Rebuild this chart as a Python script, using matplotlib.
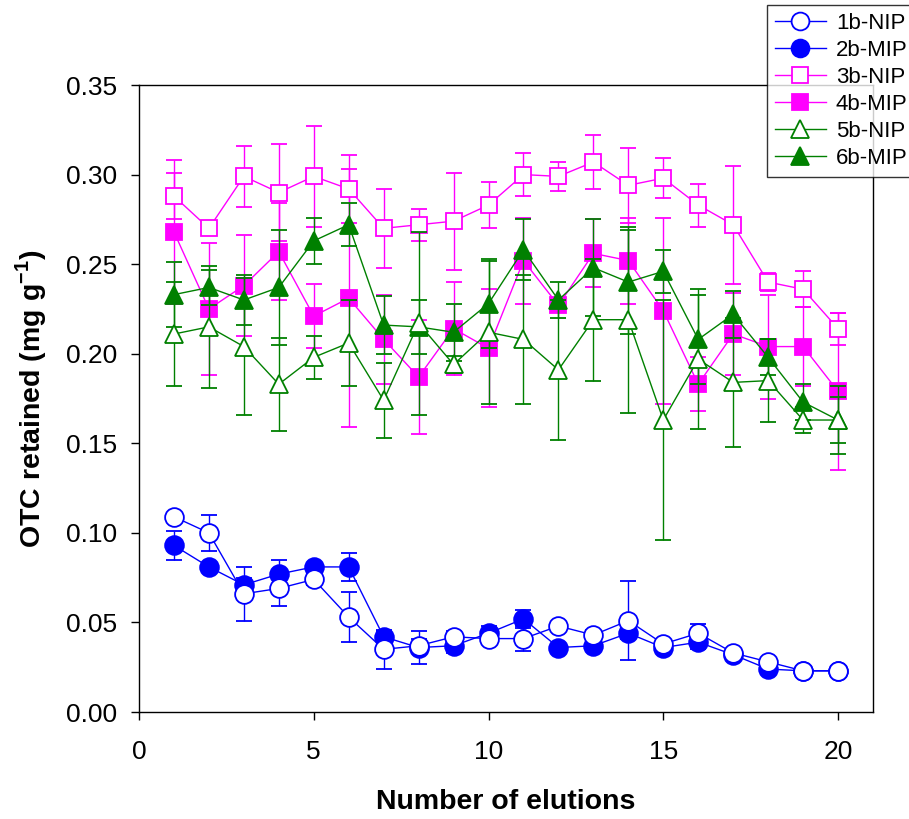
import numpy as np
import matplotlib
matplotlib.use("Agg")
import matplotlib.pyplot as plt
from matplotlib.lines import Line2D

plt.rcParams['font.family'] = ['Liberation Sans', 'DejaVu Sans']
plt.rcParams['mathtext.fontset'] = 'custom'
plt.rcParams['mathtext.rm'] = 'Liberation Sans'
plt.rcParams['mathtext.bf'] = 'Liberation Sans:bold'

elutions = np.arange(1, 21)

# series values (mg/g)
nip_1b = [0.109, 0.100, 0.066, 0.069, 0.074, 0.053, 0.035, 0.037, 0.042, 0.041,
          0.041, 0.048, 0.043, 0.051, 0.038, 0.044, 0.033, 0.028, 0.023, 0.023]
err_1b = [0.002, 0.010, 0.015, 0.010, 0.003, 0.014, 0.011, 0.004, 0.003, 0.003,
          0.007, 0.002, 0.003, 0.022, 0.002, 0.005, 0.002, 0.002, 0.001, 0.001]
mip_2b = [0.093, 0.081, 0.071, 0.077, 0.081, 0.081, 0.042, 0.036, 0.037, 0.044,
          0.052, 0.036, 0.037, 0.044, 0.036, 0.039, 0.032, 0.024, 0.023, 0.023]
err_2b = [0.008, 0.002, 0.004, 0.008, 0.002, 0.008, 0.003, 0.009, 0.004, 0.004,
          0.005, 0.002, 0.003, 0.003, 0.002, 0.004, 0.002, 0.002, 0.001, 0.001]
nip_3b = [0.288, 0.270, 0.299, 0.290, 0.299, 0.292, 0.270, 0.272, 0.274, 0.283,
          0.300, 0.299, 0.307, 0.294, 0.298, 0.283, 0.272, 0.240, 0.236, 0.214]
err_3b = [0.013, 0.003, 0.017, 0.027, 0.028, 0.019, 0.022, 0.009, 0.027, 0.013,
          0.012, 0.008, 0.015, 0.021, 0.011, 0.012, 0.033, 0.005, 0.010, 0.009]
mip_4b = [0.268, 0.225, 0.238, 0.257, 0.221, 0.231, 0.208, 0.187, 0.214, 0.203,
          0.252, 0.227, 0.256, 0.252, 0.224, 0.183, 0.211, 0.204, 0.204, 0.179]
err_4b = [0.040, 0.037, 0.028, 0.027, 0.018, 0.072, 0.025, 0.032, 0.026, 0.033,
          0.024, 0.003, 0.019, 0.024, 0.052, 0.015, 0.023, 0.029, 0.022, 0.044]
nip_5b = [0.211, 0.215, 0.204, 0.183, 0.198, 0.206, 0.174, 0.217, 0.194, 0.212,
          0.208, 0.191, 0.219, 0.219, 0.163, 0.197, 0.184, 0.185, 0.163, 0.163]
err_5b = [0.029, 0.034, 0.038, 0.026, 0.012, 0.024, 0.021, 0.051, 0.005, 0.040,
          0.036, 0.039, 0.034, 0.052, 0.067, 0.039, 0.036, 0.023, 0.007, 0.019]
mip_6b = [0.233, 0.237, 0.230, 0.237, 0.263, 0.272, 0.216, 0.215, 0.212, 0.228,
          0.258, 0.230, 0.248, 0.240, 0.246, 0.208, 0.222, 0.198, 0.173, 0.163]
err_6b = [0.018, 0.010, 0.014, 0.032, 0.013, 0.012, 0.016, 0.015, 0.016, 0.025,
          0.017, 0.010, 0.027, 0.029, 0.012, 0.025, 0.013, 0.010, 0.010, 0.013]

blue = '#0000ff'
magenta = '#ff00ff'
green = '#008000'

fig = plt.figure(figsize=(9.09, 8.19), dpi=100)
ax = fig.add_axes([0.1529, 0.1306, 0.8075, 0.7656])

series = [
    ('1b-NIP', nip_1b, err_1b, 'o', blue, 'white', 13.5, 4),
    ('2b-MIP', mip_2b, err_2b, 'o', blue, blue, 13.5, 3),
    ('3b-NIP', nip_3b, err_3b, 's', magenta, 'white', 12, 6),
    ('4b-MIP', mip_4b, err_4b, 's', magenta, magenta, 12, 5),
    ('5b-NIP', nip_5b, err_5b, '^', green, 'white', 13, 8),
    ('6b-MIP', mip_6b, err_6b, '^', green, green, 13, 7),
]

handles = []
for label, vals, errs, mk, col, face, ms, z in series:
    ax.errorbar(elutions, vals, yerr=errs, fmt=mk + '-', color=col,
                mfc=face, mec=col, mew=1.3, ms=ms, lw=1.0, elinewidth=1.0,
                capsize=6, capthick=1.0, zorder=z)
    # legend shows only line + marker, no error bar
    handles.append(Line2D([], [], color=col, marker=mk, mfc=face, mec=col,
                          mew=1.3, ms=ms * 0.95, lw=1.0, label=label))

ax.set_xlim(0, 21)
ax.set_ylim(0, 0.35)
ax.set_xticks([0, 5, 10, 15, 20])
ax.set_yticks(np.arange(0, 0.351, 0.05))
ax.yaxis.set_major_formatter(matplotlib.ticker.FormatStrFormatter('%.2f'))
ax.tick_params(direction='out', length=6, width=1, labelsize=19)
ax.tick_params(axis='x', pad=14)
ax.tick_params(axis='y', pad=10)
for s in ax.spines.values():
    s.set_linewidth(1.0)

ax.set_xlabel('Number of elutions', fontsize=20.5, fontweight='bold', labelpad=18)
ax.set_ylabel(r'OTC retained (mg g$^{\mathbf{-1}}$)', fontsize=20.5,
              fontweight='bold', labelpad=12)

leg = fig.legend(handles=handles, loc='upper left',
                 bbox_to_anchor=(767 / 909, 1 - 5 / 819), fontsize=16,
                 frameon=True, fancybox=False, edgecolor='black',
                 handlelength=2.3, labelspacing=0.27, borderpad=0.35,
                 handletextpad=0.45, borderaxespad=0)
leg.get_frame().set_linewidth(1.0)

fig.savefig('out.png', dpi=100)
